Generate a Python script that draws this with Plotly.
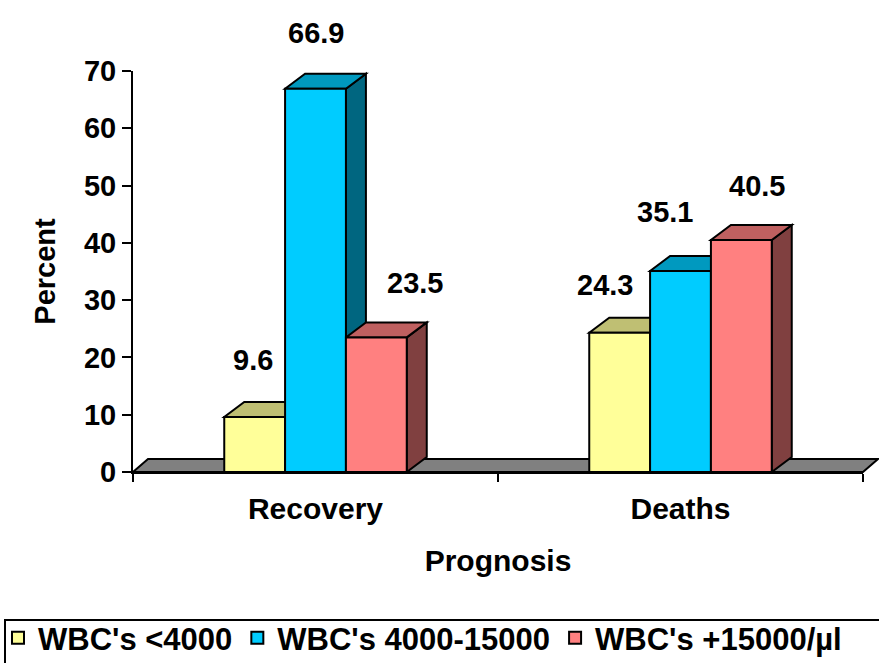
import plotly.graph_objects as go

# Data
categories = ["Recovery", "Deaths"]
series_names = ["WBC's <4000", "WBC's 4000-15000", "WBC's +15000/µl"]
wbc_low = [9.6, 24.3]
wbc_normal = [66.9, 35.1]
wbc_high = [23.5, 40.5]
series_values = [wbc_low, wbc_normal, wbc_high]

# Styling
front_colors = ["#FFFF99", "#00CCFF", "#FF8080"]
top_colors = ["#BFBF73", "#0099BF", "#BF6060"]
side_colors = ["#80804D", "#006680", "#804040"]
FONT = "Liberation Sans, Arial, sans-serif"

W, H = 879, 663
M_L, M_R, M_T, M_B = 133, 16, 71, 191
X_RANGE = (-0.5, 1.5)
Y_RANGE = (0, 70)
plot_w = W - M_L - M_R
plot_h = H - M_T - M_B
x_per_px = (X_RANGE[1] - X_RANGE[0]) / plot_w
y_per_px = (Y_RANGE[1] - Y_RANGE[0]) / plot_h

# 3D depth offsets (pixels) converted to data units
BAR_DX, BAR_DY = 20 * x_per_px, 15 * y_per_px
FLOOR_DX_PX, FLOOR_DY_PX = 15, 13

BARGAP = 0.5
n_series = len(series_values)
bar_w = (1 - BARGAP) / n_series


def px_to_paper_x(px):
    return (px - M_L) / plot_w


def px_to_paper_y(py):
    return (M_T + plot_h - py) / plot_h


fig = go.Figure()
for name, vals, col in zip(series_names, series_values, front_colors):
    fig.add_trace(go.Bar(
        name=name, x=categories, y=vals,
        marker=dict(color=col, line=dict(color="black", width=2)),
        hoverinfo="x+y+name",
    ))

shapes = []

# floor (paper coordinates, so it may run past the axis end)
def to_paper_x(v):
    return (v - X_RANGE[0]) / (X_RANGE[1] - X_RANGE[0])

fx0, fx1 = to_paper_x(X_RANGE[0]), to_paper_x(X_RANGE[1])
fdx, fdy = FLOOR_DX_PX / plot_w, FLOOR_DY_PX / plot_h
shapes.append(dict(
    type="path", xref="paper", yref="paper", layer="below",
    path=f"M{fx0},0 L{fx1},0 L{fx1 + fdx},{fdy} L{fx0 + fdx},{fdy} Z",
    fillcolor="#808080", line=dict(color="black", width=2),
))

# top and side faces of every bar, computed from the values
for gi in range(len(categories)):
    for si in range(n_series):
        v = series_values[si][gi]
        xl = gi - (1 - BARGAP) / 2 + si * bar_w
        xr = xl + bar_w
        shapes.append(dict(
            type="path", xref="x", yref="y", layer="below",
            path=(f"M{xr},0 L{xr},{v} L{xr + BAR_DX},{v + BAR_DY} "
                  f"L{xr + BAR_DX},{BAR_DY} Z"),
            fillcolor=side_colors[si], line=dict(color="black", width=2),
        ))
        shapes.append(dict(
            type="path", xref="x", yref="y", layer="below",
            path=(f"M{xl},{v} L{xr},{v} L{xr + BAR_DX},{v + BAR_DY} "
                  f"L{xl + BAR_DX},{v + BAR_DY} Z"),
            fillcolor=top_colors[si], line=dict(color="black", width=2),
        ))

# legend frame, running off the right and bottom edges of the page
shapes.append(dict(
    type="rect", xref="paper", yref="paper", layer="below",
    x0=px_to_paper_x(5), x1=px_to_paper_x(W + 20),
    y0=px_to_paper_y(620), y1=px_to_paper_y(H + 20),
    fillcolor="white", line=dict(color="black", width=2),
))

# value labels: pixel nudges keep them clear of neighbouring bars
label_shift_x = [[-2, -15], [0, -16], [39, 16]]
label_shift_y = [[57, 48], [56, 59], [54, 54]]
annotations = []
for gi in range(len(categories)):
    for si in range(n_series):
        v = series_values[si][gi]
        xc = gi - (1 - BARGAP) / 2 + (si + 0.5) * bar_w
        annotations.append(dict(
            x=xc, y=v, xref="x", yref="y", text=f"{v}", showarrow=False,
            xshift=label_shift_x[si][gi], yshift=label_shift_y[si][gi],
            font=dict(family=FONT, size=29, color="black", weight="bold"),
        ))

fig.update_layout(
    width=W, height=H,
    margin=dict(l=M_L, r=M_R, t=M_T, b=M_B, autoexpand=False),
    paper_bgcolor="white", plot_bgcolor="white",
    barmode="group", bargap=BARGAP, bargroupgap=0,
    shapes=shapes, annotations=annotations,
    font=dict(family=FONT, color="black", weight="bold"),
    xaxis=dict(
        range=list(X_RANGE), type="category", showgrid=False, zeroline=False,
        showline=True, linecolor="black", linewidth=2,
        ticks="outside", tickson="boundaries", ticklen=8, tickwidth=2, tickcolor="black",
        ticklabelstandoff=9,
        tickfont=dict(family=FONT, size=30, weight="bold"),
        title=dict(text="Prognosis", standoff=26,
                   font=dict(family=FONT, size=30, weight="bold")),
    ),
    yaxis=dict(
        range=list(Y_RANGE), showgrid=False, zeroline=False,
        showline=True, linecolor="black", linewidth=2,
        tickmode="array", tickvals=list(range(0, 71, 10)),
        ticks="outside", ticklen=9, tickwidth=2, tickcolor="black",
        tickfont=dict(family=FONT, size=29, weight="bold"),
        title=dict(text="Percent", standoff=20,
                   font=dict(family=FONT, size=29, weight="bold")),
    ),
    legend=dict(
        orientation="h", xref="paper", yref="paper",
        x=px_to_paper_x(-2), y=px_to_paper_y(611),
        xanchor="left", yanchor="top",
        borderwidth=0, bgcolor="rgba(0,0,0,0)",
        font=dict(family=FONT, size=31, weight="bold"),
        traceorder="normal", itemwidth=30,
    ),
    showlegend=True,
)

fig.write_html("out.html")
